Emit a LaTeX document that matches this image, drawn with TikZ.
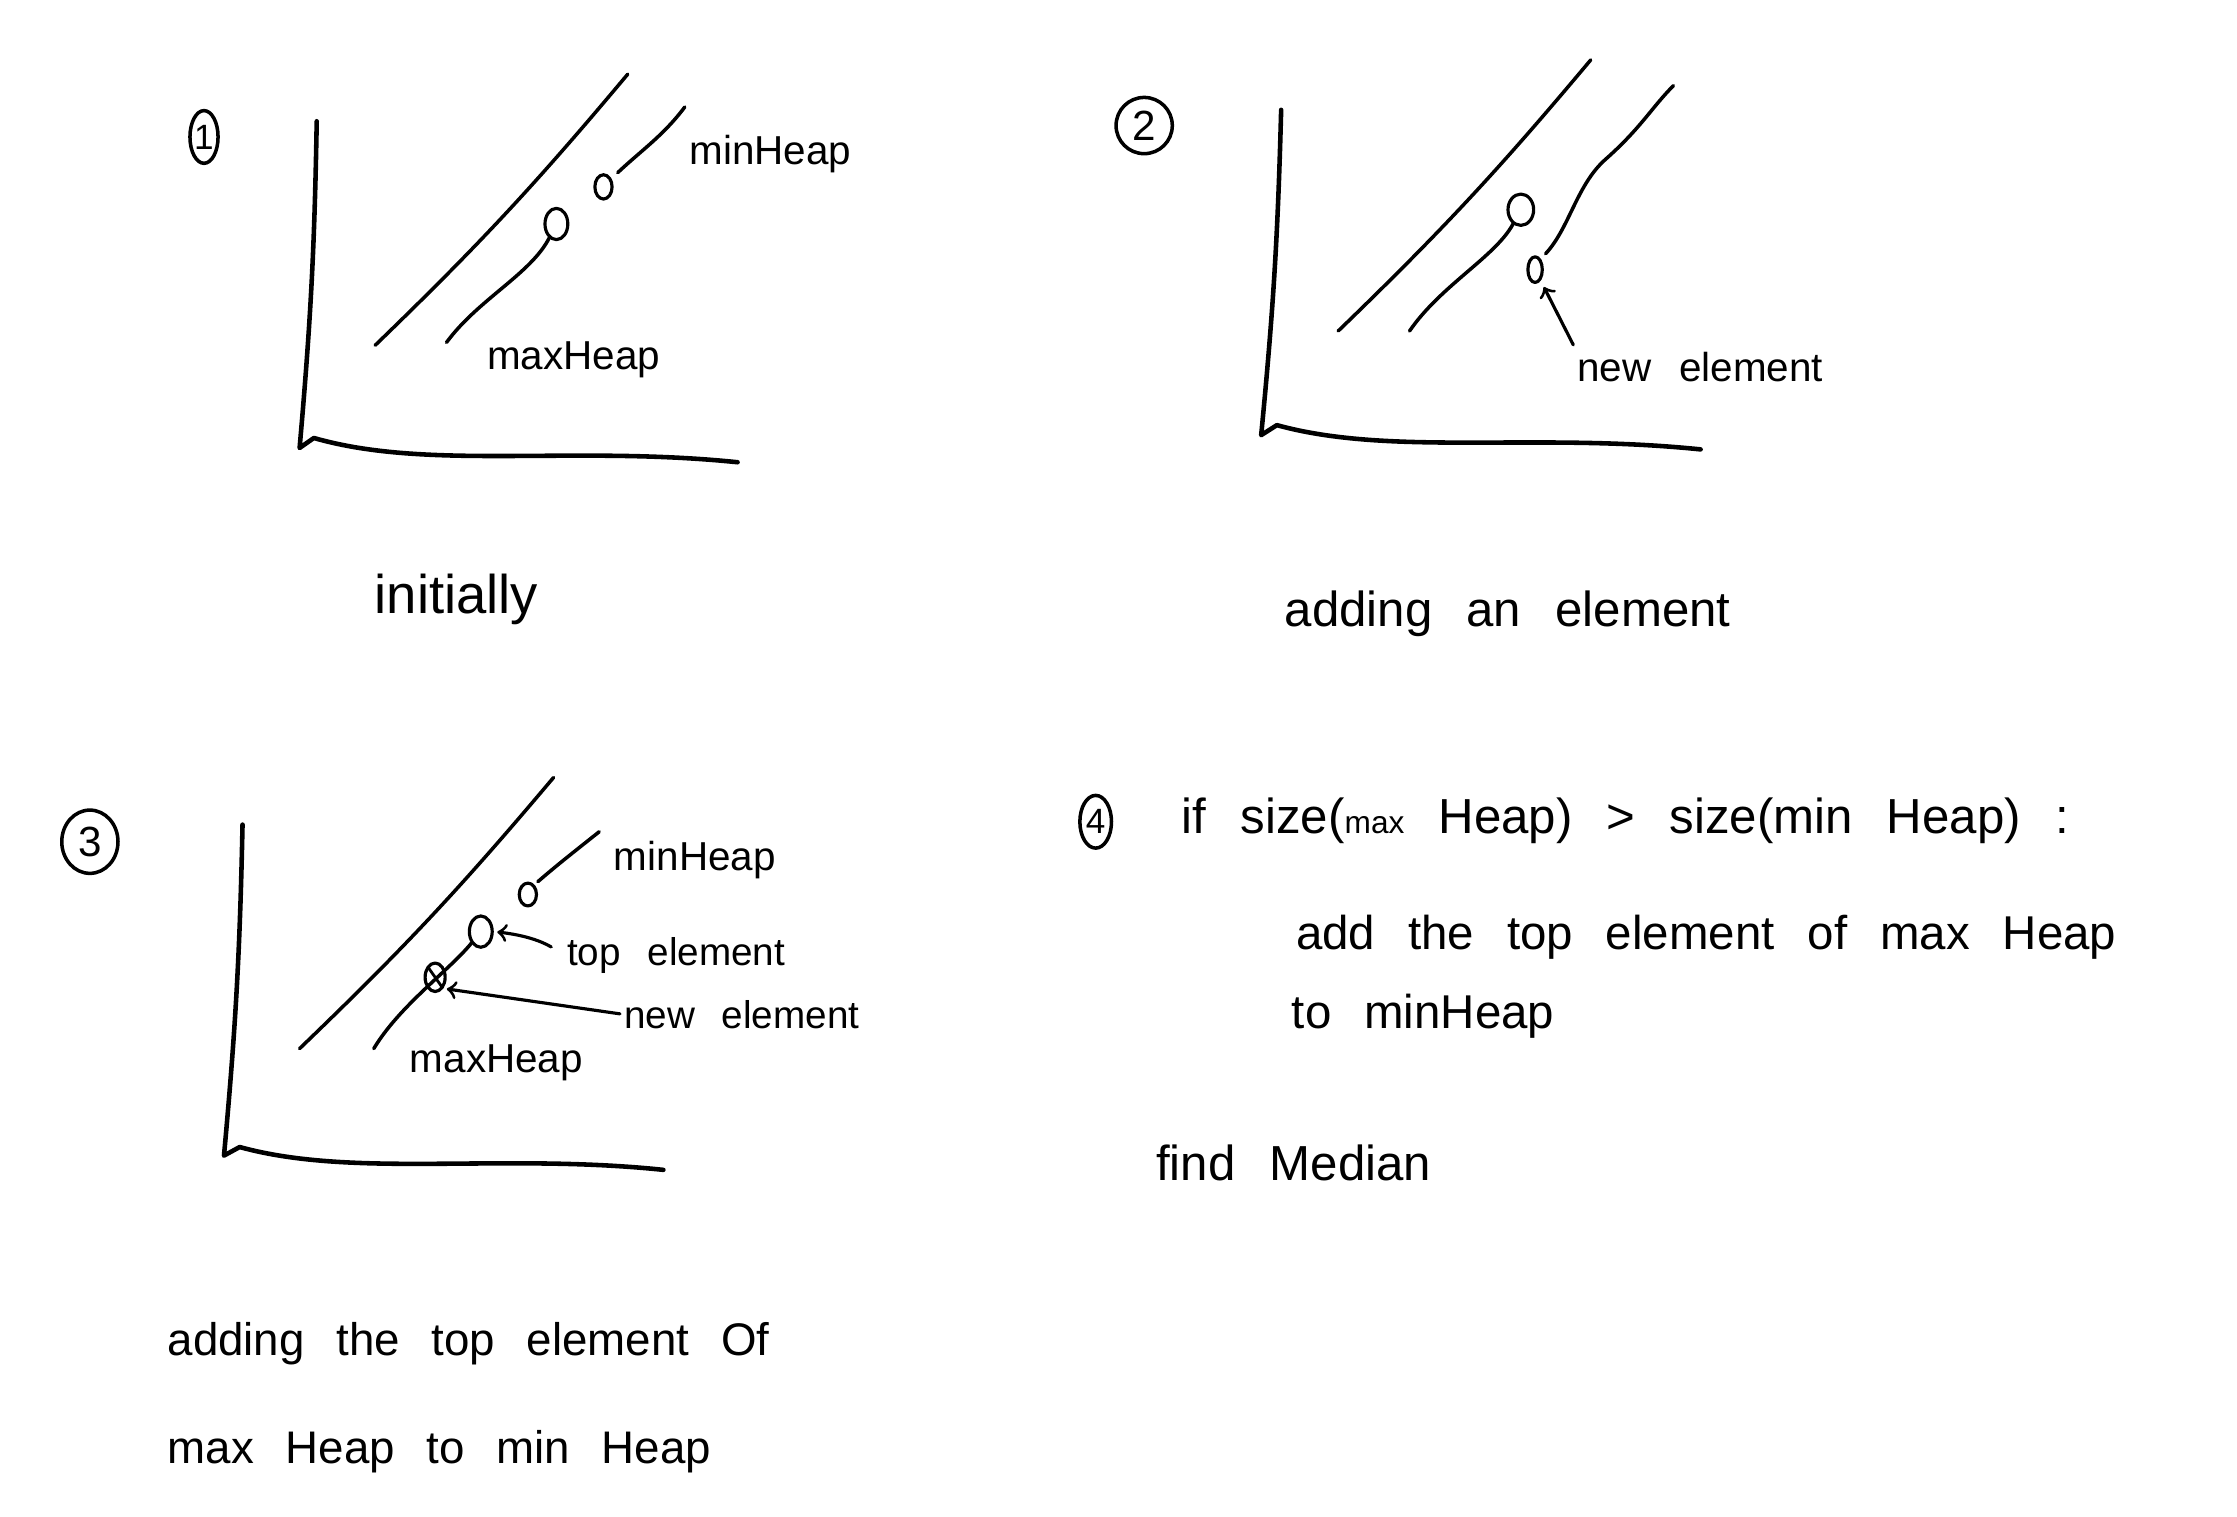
\documentclass[tikz,border=0pt]{standalone}
\usepackage{fontspec}
\setmainfont{Liberation Sans}[WordSpace=2.5]
\usetikzlibrary{shapes,arrows,positioning}

\begin{document}
\begin{tikzpicture}[x=0.14267mm, y=-0.14267mm, line cap=round, line join=round]
        % Define styles
        \tikzstyle{penline} = [draw, line width=1pt]
        \tikzstyle{axisline} = [draw, line width=1.3pt]
        \tikzstyle{elem} = [ellipse, draw, line width=0.9pt, inner sep=0pt]
        \tikzstyle{crossedelem} = [elem, path picture={\draw [line width=0.8pt] (path picture bounding box.north west) -- (path picture bounding box.south east);}]
        \tikzstyle{stepnum} = [ellipse, draw, line width=1pt, inner sep=0pt, font=\fontsize{12}{12}\selectfont]
        \tikzstyle{heaptag} = [inner sep=0pt, font=\fontsize{11.5}{12}\selectfont]
        \tikzstyle{capt} = [inner sep=0pt, anchor=west, font=\fontsize{14}{16}\selectfont]
        \tikzstyle{pointer} = [draw, ->, line width=0.9pt]

        \useasboundingbox (0,0) rectangle (1568,1063);

        % Panel 1: initially
        \node [stepnum, minimum width=8pt, minimum height=15pt, font=\fontsize{10}{10}\selectfont] (Step_One) at (143,96) {1};
        \coordinate (Axis_One_Top) at (222,85);
        \coordinate (Axis_One_Corner) at (210,314);
        \coordinate (Axis_One_End) at (517,324);
        \coordinate (Wall_One_Base) at (263,242);
        \coordinate (Wall_One_Top) at (440,52);
        \coordinate (Max_One_Base) at (313,240);
        \coordinate (Min_One_Base) at (433,121);
        \coordinate (Min_One_Top) at (480,75);
        \node [elem, minimum width=6.5pt, minimum height=8.9pt] (Max_One) at (390,157) {};
        \node [elem, minimum width=4.9pt, minimum height=6.9pt] (Min_One) at (423,131) {};
        \node [heaptag] (MinHeap_One) at (540,108) {minHeap};
        \node [heaptag] (MaxHeap_One) at (402,252) {maxHeap};
        \node [capt, anchor=center, font=\fontsize{15.5}{17}\selectfont] (Initially) at (320,420) {initially};

        \path [axisline] (Axis_One_Top) to[bend left=2] (Axis_One_Corner) -- (220,307) .. controls (300,330) and (400,312) .. (Axis_One_End);
        \path [penline] (Wall_One_Base) to[bend right=3] (Wall_One_Top);
        \path [penline] (Max_One_Base) .. controls (335,210) and (372,192) .. (Max_One);
        \path [penline] (Min_One_Base) .. controls (450,105) and (465,95) .. (Min_One_Top);

        % Panel 2: adding an element
        \node [stepnum, minimum size=16pt] (Step_Two) at (802,88) {2};
        \coordinate (Axis_Two_Top) at (898,77);
        \coordinate (Axis_Two_Corner) at (884,305);
        \coordinate (Axis_Two_End) at (1192,315);
        \coordinate (Wall_Two_Base) at (938,232);
        \coordinate (Wall_Two_Top) at (1115,42);
        \coordinate (Max_Two_Base) at (988,232);
        \coordinate (Min_Two_Top) at (1173,60);
        \node [elem, minimum width=7.3pt, minimum height=8.9pt] (Max_Two) at (1066,147) {};
        \node [elem, minimum width=4.1pt, minimum height=7.3pt] (New_Two) at (1076,189) {};
        \node [heaptag, anchor=west] (New_Tag_Two) at (1105,257) {new element};
        \node [capt] (Adding_Two) at (900,430) {adding an element};

        \path [axisline] (Axis_Two_Top) to[bend left=2] (Axis_Two_Corner) -- (895,298) .. controls (975,320) and (1075,303) .. (Axis_Two_End);
        \path [penline] (Wall_Two_Base) to[bend right=3] (Wall_Two_Top);
        \path [penline] (Max_Two_Base) .. controls (1010,200) and (1048,180) .. (Max_Two);
        \path [penline] (New_Two.north east) ++(3,-4) .. controls (1100,160) and (1105,130) .. (1125,112) .. controls (1150,90) and (1158,75) .. (Min_Two_Top);
        \path [pointer, shorten >=2pt, shorten <=2pt] (New_Tag_Two.north west) -- (New_Two);

        % Panel 3: moving the top element
        \node [stepnum, minimum width=16pt, minimum height=18pt] (Step_Three) at (63,590) {3};
        \coordinate (Axis_Three_Top) at (170,578);
        \coordinate (Axis_Three_Corner) at (157,810);
        \coordinate (Axis_Three_End) at (465,820);
        \coordinate (Wall_Three_Base) at (210,735);
        \coordinate (Wall_Three_Top) at (388,545);
        \coordinate (Max_Three_Base) at (262,735);
        \coordinate (Min_Three_Base) at (377,618);
        \coordinate (Min_Three_Top) at (420,583);
        \node [crossedelem, minimum width=5.7pt, minimum height=8.1pt] (New_Three) at (305,685) {};
        \node [elem, minimum width=6.5pt, minimum height=8.9pt] (Top_Three) at (337,653) {};
        \node [elem, minimum width=4.9pt, minimum height=6.5pt] (Min_Three) at (370,627) {};
        \node [heaptag] (MinHeap_Three) at (487,603) {minHeap};
        \node [heaptag, anchor=west, font=\fontsize{11}{12}\selectfont] (Top_Tag_Three) at (397,670) {top element};
        \node [heaptag, anchor=west, font=\fontsize{11}{12}\selectfont] (New_Tag_Three) at (437,711) {new element};
        \node [heaptag] (MaxHeap_Three) at (348,745) {maxHeap};
        \node [capt, font=\fontsize{13}{15}\selectfont] (Adding_Three) at (117,942) {adding the top element Of};
        \node [capt, font=\fontsize{13}{15}\selectfont, below=10.8mm of Adding_Three.west, anchor=west] (Moving_Three) {max Heap to min Heap};

        \path [axisline] (Axis_Three_Top) to[bend left=2] (Axis_Three_Corner) -- (168,804) .. controls (248,826) and (350,808) .. (Axis_Three_End);
        \path [penline] (Wall_Three_Base) to[bend right=3] (Wall_Three_Top);
        \path [penline] (Max_Three_Base) .. controls (280,705) and (315,680) .. (Top_Three);
        \path [penline] (Min_Three_Base) .. controls (392,605) and (405,595) .. (Min_Three_Top);
        \path [pointer, shorten <=5pt, shorten >=1pt] (Top_Tag_Three.west) to[bend right=12] (Top_Three.east);
        \path [pointer, shorten <=1pt, shorten >=1pt] (New_Tag_Three.west) -- (New_Three.south east);

        % Panel 4: rebalancing and the median
        \node [stepnum, minimum width=9pt, minimum height=15pt, font=\fontsize{10}{10}\selectfont] (Step_Four) at (768,576) {4};
        \node [capt] (Rule_If) at (828,575) {if size({\fontsize{9}{9}\selectfont max} Heap) > size(min Heap) :};
        \node [capt, font=\fontsize{13.5}{15}\selectfont] (Rule_Add) at (908,657) {add the top element of max Heap};
        \node [capt, font=\fontsize{13.5}{15}\selectfont] (Rule_To) at (905,712) {to minHeap};
        \node [capt] (Find_Median) at (810,815) {find Median};
    \end{tikzpicture}
\end{document}
